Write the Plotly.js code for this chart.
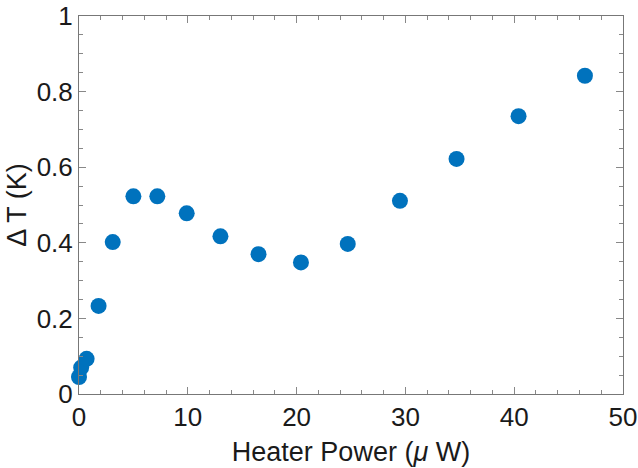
<!DOCTYPE html>
<html><head><meta charset="utf-8">
<script src="https://cdn.plot.ly/plotly-3.0.1.min.js"></script>
<style>html,body{margin:0;padding:0;background:#fff;}#chart{width:638px;height:468px;}</style>
</head><body><div id="chart"></div>
<script>
const heaterPower = [0.0, 0.2, 0.7, 1.8, 3.1, 5.0, 7.2, 9.9, 13.0, 16.5, 20.4, 24.7, 29.5, 34.7, 40.4, 46.5];
const deltaT = [0.045, 0.07, 0.093, 0.233, 0.402, 0.523, 0.523, 0.478, 0.417, 0.37, 0.348, 0.397, 0.511, 0.622, 0.735, 0.842];
const xTickVals = [0, 10, 20, 30, 40, 50];
const yTickVals = [0, 0.2, 0.4, 0.6, 0.8, 1];

const font = 'Liberation Sans, Arial, Helvetica, sans-serif';
Plotly.newPlot('chart', [{
  x: heaterPower, y: deltaT, type: 'scatter', mode: 'markers', cliponaxis: false,
  marker: {color: '#0072BD', size: 16}
}], {
  width: 638, height: 468,
  margin: {l: 79, r: 15, t: 16, b: 74},
  paper_bgcolor: '#fff', plot_bgcolor: '#fff',
  showlegend: false,
  font: {family: font, color: '#1a1a1a'},
  xaxis: {
    range: [0, 50], tickvals: xTickVals, ticks: 'inside', ticklen: 7, tickcolor: '#888',
    showline: true, linecolor: '#777', linewidth: 1, mirror: 'ticks', showgrid: false, zeroline: false,
    minor: {dtick: 2, ticks: 'inside', ticklen: 4, tickcolor: '#888', showgrid: false},
    tickfont: {size: 26, family: font, color: '#1a1a1a'},
    title: {text: 'Heater Power (<i>μ</i> W)', font: {size: 27, family: font, color: '#1a1a1a'}, standoff: 10}
  },
  yaxis: {
    range: [0, 1], tickvals: yTickVals, ticks: 'inside', ticklen: 7, tickcolor: '#888',
    showline: true, linecolor: '#777', linewidth: 1, mirror: 'ticks', showgrid: false, zeroline: false,
    minor: {dtick: 0.05, ticks: 'inside', ticklen: 4, tickcolor: '#888', showgrid: false},
    tickfont: {size: 26, family: font, color: '#1a1a1a'},
    title: {text: 'Δ T (K)', font: {size: 27, family: font, color: '#1a1a1a'}, standoff: 2}
  }
}, {displayModeBar: false, staticPlot: true});
</script></body></html>
